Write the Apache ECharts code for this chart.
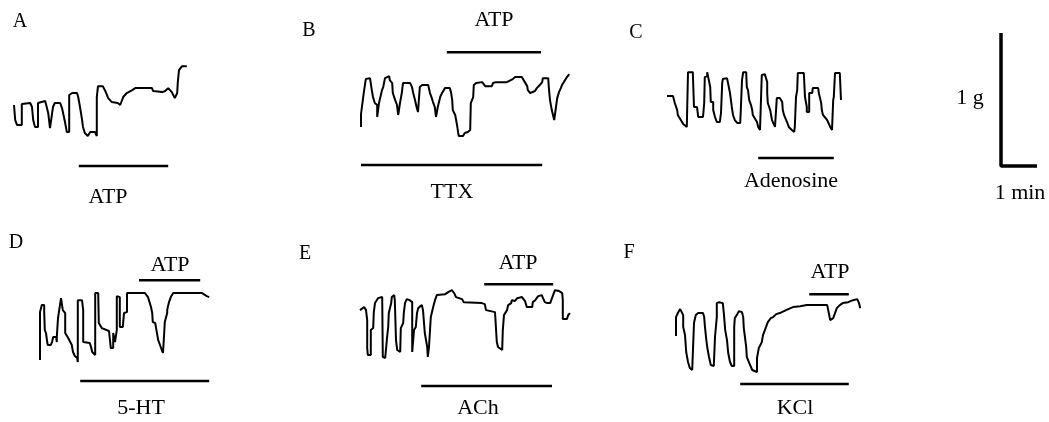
<!DOCTYPE html>
<html>
<head>
<meta charset="utf-8">
<script src="https://cdn.jsdelivr.net/npm/echarts@6/dist/echarts.min.js"></script>
<style>
  html, body { margin: 0; padding: 0; background: #fff; }
  #main { width: 1049px; height: 422px; }
</style>
</head>
<body>
<div id="main"></div>
<script>
// contraction traces: [time (s), tension (mg)]
const traceA = [[0,233],[2,120],[5,83],[13,83],[13,240],[15,248],[27,248],[30,218],[32,120],[35,68],[40,68],[40,248],[43,263],[52,263],[55,248],[57,173],[60,60],[63,60],[65,218],[68,248],[77,248],[80,210],[85,105],[88,30],[92,30],[92,308],[97,323],[105,323],[107,293],[110,218],[113,135],[115,68],[118,23],[123,0],[127,30],[135,30],[138,0],[138,293],[140,375],[148,375],[153,330],[157,285],[163,255],[173,248],[177,233],[180,248],[182,293],[188,323],[197,345],[202,360],[230,360],[232,338],[247,330],[248,323],[252,338],[257,360],[263,330],[265,323],[268,285],[272,323],[273,405],[275,495],[280,525],[288,525]];

const traceB = [[0,68],[0,165],[3,165],[5,338],[7,338],[8,428],[15,435],[17,420],[18,345],[20,293],[23,248],[27,233],[27,143],[30,143],[30,248],[33,240],[35,345],[37,368],[40,435],[43,450],[47,450],[48,420],[52,398],[53,323],[57,270],[60,233],[62,158],[63,158],[65,248],[68,323],[70,398],[82,398],[85,368],[87,323],[90,270],[93,210],[95,180],[98,180],[98,368],[102,383],[112,383],[115,323],[118,285],[120,255],[123,218],[125,143],[128,143],[128,218],[132,293],[135,323],[138,323],[140,360],[148,360],[150,330],[152,270],[153,195],[157,158],[160,83],[162,23],[163,0],[170,0],[173,23],[178,30],[182,45],[183,248],[187,293],[188,383],[192,398],[202,405],[203,390],[207,375],[218,375],[220,398],[225,405],[243,405],[245,420],[253,428],[257,443],[268,443],[270,428],[273,405],[277,375],[278,345],[282,323],[285,330],[290,338],[293,360],[295,368],[298,383],[302,405],[303,435],[312,435],[313,368],[315,270],[318,195],[320,180],[322,120],[325,120],[325,218],[327,285],[328,293],[330,330],[333,360],[335,383],[338,405],[342,435],[345,443],[347,465]];

const traceC = [[0,270],[10,270],[13,218],[17,165],[18,128],[22,98],[27,60],[33,38],[35,30],[35,450],[43,450],[45,188],[50,188],[52,113],[60,113],[62,218],[63,413],[67,420],[67,450],[70,450],[72,338],[73,225],[77,225],[77,165],[80,113],[83,75],[85,60],[88,75],[90,143],[92,368],[93,398],[100,405],[102,390],[105,293],[108,188],[110,128],[113,90],[117,68],[122,68],[123,165],[125,390],[127,450],[132,450],[133,338],[135,315],[137,240],[140,203],[142,165],[143,128],[145,113],[150,75],[152,38],[155,15],[157,293],[158,428],[163,435],[167,375],[167,293],[168,218],[172,165],[175,90],[177,68],[180,38],[183,38],[183,255],[188,255],[192,225],[193,165],[195,128],[198,113],[200,75],[203,38],[208,15],[212,0],[213,38],[215,263],[217,315],[218,443],[228,443],[230,263],[233,188],[233,150],[237,150],[237,293],[242,293],[243,330],[252,330],[253,293],[257,218],[258,165],[260,128],[267,90],[272,38],[275,15],[277,240],[278,263],[280,443],[283,450],[288,443],[290,240]];

const traceD = [[0,15],[0,375],[3,390],[3,428],[7,428],[7,375],[8,240],[10,218],[12,150],[13,128],[18,128],[20,150],[22,188],[27,188],[28,150],[28,188],[30,330],[33,338],[35,480],[37,488],[38,390],[42,368],[42,218],[45,203],[47,180],[50,165],[53,128],[55,75],[58,45],[62,30],[63,0],[63,465],[70,465],[72,390],[72,150],[75,143],[83,143],[85,113],[87,75],[88,60],[92,53],[92,518],[97,518],[98,503],[98,293],[103,255],[105,240],[115,233],[117,218],[118,105],[122,105],[122,218],[123,218],[125,150],[128,143],[128,240],[128,495],[130,503],[133,488],[133,263],[138,263],[140,368],[145,375],[145,518],[150,518],[175,518],[178,503],[180,488],[183,480],[185,413],[187,368],[188,300],[192,293],[195,278],[197,165],[200,128],[203,90],[205,68],[207,218],[208,300],[212,368],[212,390],[213,413],[215,450],[218,488],[220,503],[222,518],[225,518],[270,518],[272,503],[278,495],[282,488]];

const traceE = [[0,360],[3,375],[7,383],[10,360],[12,285],[12,75],[13,23],[18,23],[18,210],[22,225],[23,345],[25,413],[28,428],[30,450],[37,458],[38,8],[42,0],[43,8],[45,150],[47,233],[48,338],[52,413],[53,458],[57,473],[58,435],[60,135],[62,60],[63,45],[67,45],[68,225],[72,263],[73,338],[75,413],[78,443],[83,435],[87,420],[87,45],[90,45],[90,210],[93,233],[95,338],[97,375],[100,390],[103,398],[105,360],[108,188],[112,83],[113,8],[115,8],[115,83],[118,308],[122,383],[125,435],[128,473],[142,480],[147,495],[153,510],[157,488],[160,458],[163,450],[170,443],[173,420],[175,413],[203,413],[208,405],[210,360],[213,345],[225,345],[228,120],[230,83],[233,68],[237,60],[238,210],[240,323],[243,338],[245,360],[247,398],[252,413],[253,435],[255,420],[258,428],[262,450],[263,458],[270,458],[272,450],[275,428],[278,383],[287,383],[288,420],[292,435],[295,450],[297,465],[303,473],[305,450],[308,420],[312,413],[317,413],[320,450],[323,488],[325,510],[332,503],[337,488],[338,435],[338,293],[345,293],[347,323],[350,338]];

const traceF = [[0,270],[0,413],[2,428],[3,443],[7,473],[10,465],[12,428],[12,338],[15,278],[17,150],[20,75],[23,30],[27,15],[30,15],[30,368],[33,428],[37,443],[45,443],[47,413],[48,353],[50,263],[52,188],[55,113],[58,53],[63,45],[65,263],[68,413],[68,518],[72,525],[78,518],[80,428],[82,315],[85,240],[87,143],[90,75],[93,45],[97,45],[97,338],[98,405],[102,435],[105,458],[110,450],[112,413],[113,330],[117,188],[118,113],[122,68],[127,15],[130,0],[135,0],[135,105],[138,180],[143,225],[145,278],[150,338],[153,375],[158,405],[162,413],[167,435],[173,443],[180,458],[187,473],[195,488],[207,495],[218,503],[252,503],[253,488],[257,390],[260,375],[262,405],[265,443],[268,480],[273,503],[278,518],[287,525],[295,540],[302,548],[305,518],[307,480]];

// drug application periods: [start (s), end (s)]
const atpA = [108, 257];
const atpB = [143, 300];
const ttxB = [0, 302];
const adenosineC = [152, 278];
const atpD = [165, 267];
const htD = [67, 282];
const atpE = [207, 322];
const achE = [102, 320];
const atpF = [222, 288];
const kclF = [107, 288];

// calibration: 1 g vertical, 1 min horizontal
const scaleBar = [[0, 1000], [0, 0], [60, 0]];

const PX_PER_S = 36 / 60;
const PX_PER_MG = 133 / 1000;
const FONT = '"Liberation Serif", "Times New Roman", serif';

const panels = [
  { trace: traceA, origin: [14, 136], bars: [[atpA, -225]] },
  { trace: traceB, origin: [361, 136], bars: [[atpB, 630], [ttxB, -218]] },
  { trace: traceC, origin: [667, 132], bars: [[adenosineC, -195]] },
  { trace: traceD, origin: [40, 362], bars: [[atpD, 615], [htD, -143]] },
  { trace: traceE, origin: [360, 358], bars: [[atpE, 555], [achE, -210]] },
  { trace: traceF, origin: [676, 372], bars: [[atpF, 585], [kclF, -90]] }
];

const grids = [], xAxes = [], yAxes = [], series = [];

// one grid per trace, all sharing the same s/px and mg/px
function addGrid(origin, tMax, fMin, fMax) {
  const idx = grids.length;
  grids.push({
    left: origin[0],
    top: origin[1] - fMax * PX_PER_MG,
    width: tMax * PX_PER_S,
    height: (fMax - fMin) * PX_PER_MG
  });
  xAxes.push({ type: 'value', gridIndex: idx, min: 0, max: tMax, show: false });
  yAxes.push({ type: 'value', gridIndex: idx, min: fMin, max: fMax, show: false });
  return idx;
}

function lineSeries(idx, data, width) {
  return {
    type: 'line', xAxisIndex: idx, yAxisIndex: idx, data: data,
    symbol: 'none', clip: false, silent: true, animation: false,
    lineStyle: { color: '#000', width: width, join: 'bevel', cap: 'butt' }
  };
}

panels.forEach(function (p) {
  const idx = addGrid(p.origin, 360, -300, 700);
  series.push(lineSeries(idx, p.trace, 2));
  p.bars.forEach(function (b) {
    series.push(lineSeries(idx, [[b[0][0], b[1]], [b[0][1], b[1]]], 2.6));
  });
});

const scaleIdx = addGrid([1001, 166], 70, -100, 1100);
series.push(lineSeries(scaleIdx, scaleBar, 3.5));

const labels = [
  ['A', 20, 22, 20], ['B', 309, 31, 20], ['C', 636, 33, 20],
  ['D', 16, 243, 20], ['E', 305, 254, 20], ['F', 629, 253, 20],
  ['ATP', 108, 197, 22], ['ATP', 494, 20, 22], ['TTX', 452, 192, 22],
  ['Adenosine', 791, 181, 22], ['ATP', 170, 265, 22], ['5-HT', 141, 408, 22],
  ['ATP', 518, 263, 22], ['ACh', 478, 408, 22], ['ATP', 830, 272, 22],
  ['KCl', 795, 408, 22], ['1 g', 970, 98, 22], ['1 min', 1020, 193, 22]
];

const chart = echarts.init(document.getElementById('main'));
chart.setOption({
  backgroundColor: '#fff',
  animation: false,
  grid: grids,
  xAxis: xAxes,
  yAxis: yAxes,
  series: series,
  graphic: labels.map(function (l) {
    return {
      type: 'text', x: l[1], y: l[2], silent: true,
      style: {
        text: l[0], fill: '#000', font: l[3] + 'px ' + FONT,
        textAlign: 'center', textVerticalAlign: 'middle'
      }
    };
  })
});
window.onresize = function () { chart.resize(); };
</script>
</body>
</html>
